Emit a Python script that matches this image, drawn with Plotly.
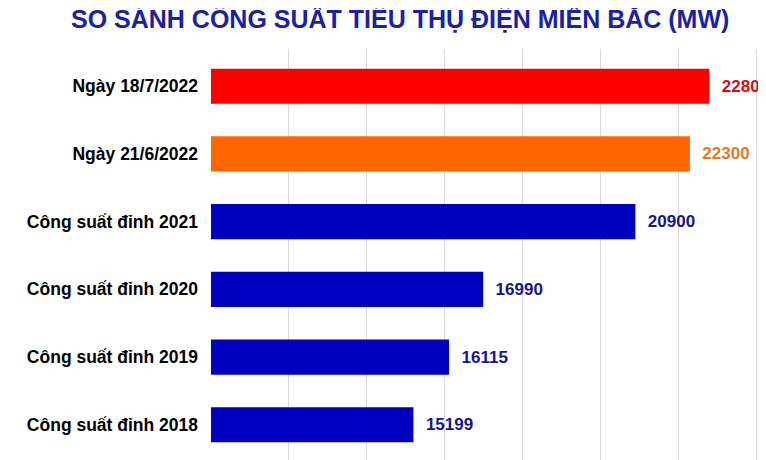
import plotly.graph_objects as go

categories = ["Công suất đỉnh 2018", "Công suất đỉnh 2019", "Công suất đỉnh 2020",
              "Công suất đỉnh 2021", "Ngày 21/6/2022", "Ngày 18/7/2022"]
values = [15199, 16115, 16990, 20900, 22300, 22800]
bar_colors = ["#0000c0", "#0000c0", "#0000c0", "#0000c0", "#ff6600", "#ff0000"]
label_colors = ["#14148c", "#14148c", "#14148c", "#14148c", "#e07a28", "#d01010"]

fig = go.Figure(go.Bar(
    y=categories, x=values, orientation="h",
    marker=dict(color=bar_colors, line=dict(width=0)),
    text=[str(v) for v in values], texttemplate="  <b>%{text}</b>", textposition="outside",
    textfont=dict(family="Liberation Sans, Arial", size=17, color=label_colors),
    cliponaxis=False, width=0.52,
))
fig.update_layout(
    width=766, height=460, plot_bgcolor="white", paper_bgcolor="white",
    margin=dict(l=203, r=0, t=41, b=6),
    title=dict(text="<b>SO SÁNH CÔNG SUẤT TIÊU THỤ ĐIỆN MIỀN BẮC (MW)</b>",
               x=0.512, xanchor="center", y=0.995, yanchor="top",
               font=dict(family="Liberation Sans, Arial", size=25, color="#1a22a0")),
    showlegend=False,
)
fig.update_xaxes(range=[10000, 24460], dtick=2000, tick0=10000, showgrid=True,
                 gridcolor="#d9d9d9", showticklabels=False, zeroline=False, automargin=False)
fig.update_yaxes(tickfont=dict(family="Liberation Sans, Arial", size=17.5, color="black"),
                 ticklabelstandoff=12, ticks="", range=[-0.55, 5.55], automargin=False,
                 tickprefix="<b>", ticksuffix="</b>")
fig.write_html("out.html")
